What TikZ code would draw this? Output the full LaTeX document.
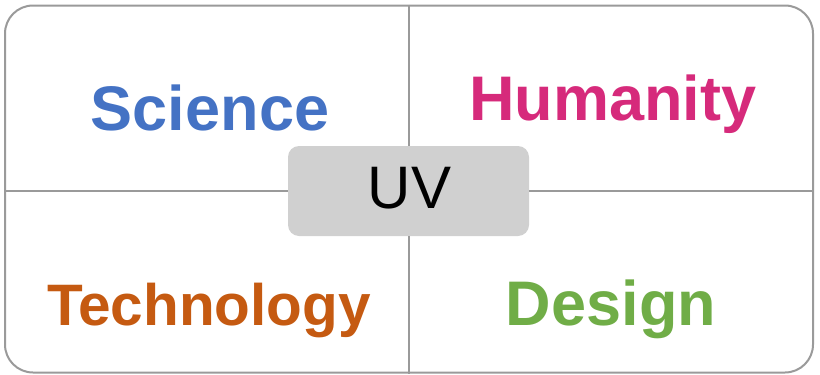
\documentclass[tikz,border=0pt]{standalone}
\usepackage{fontspec}
\setmainfont{Liberation Sans}
\definecolor{sciblue}{HTML}{4472C4}
\definecolor{humpink}{HTML}{D62A7B}
\definecolor{techorange}{HTML}{C55A11}
\definecolor{desgreen}{HTML}{70AD47}
\definecolor{gridgray}{HTML}{9A9A9A}
\definecolor{boxgray}{HTML}{D0D0D0}
\tikzset{
  frame/.style={draw=gridgray, line width=2pt, rounded corners=28pt, inner sep=0pt},
  divider/.style={draw=gridgray, line width=2pt},
  centerbox/.style={fill=boxgray, rounded corners=11pt, inner sep=0pt, minimum width=241pt, minimum height=90pt},
  label/.style={anchor=base, font=\fontsize{63}{63}\selectfont\bfseries, inner sep=0pt},
}
\begin{document}
\begin{tikzpicture}[x=1pt, y=-1pt]
\useasboundingbox (0,0) rectangle (820,375);
\node[frame, minimum width=808pt, minimum height=367pt] (outer) at (409,189) {};
\node[centerbox] (uv) at (408.5,191) {};
\node[anchor=base, inner sep=0pt, font=\fontsize{60}{60}\selectfont] (uvtext) at (409.5,208) {UV};
\draw[divider] (outer.west |- uv.west) -- (uv.west);
\draw[divider] (uv.east) -- (outer.east |- uv.east);
\draw[divider] (outer.north -| uv.north) -- (uv.north);
\draw[divider] (uv.south) -- (outer.south -| uv.south);
\node[label, text=sciblue] (science) at (210,130) {Science};
\node[label, text=humpink] (humanity) at (613,120) {Humanity};
\node[label, text=techorange, font=\fontsize{58.5}{58.5}\selectfont\bfseries] (technology) at (209,325) {Technology};
\node[label, text=desgreen] (design) at (611,325) {Design};
\end{tikzpicture}
\end{document}
